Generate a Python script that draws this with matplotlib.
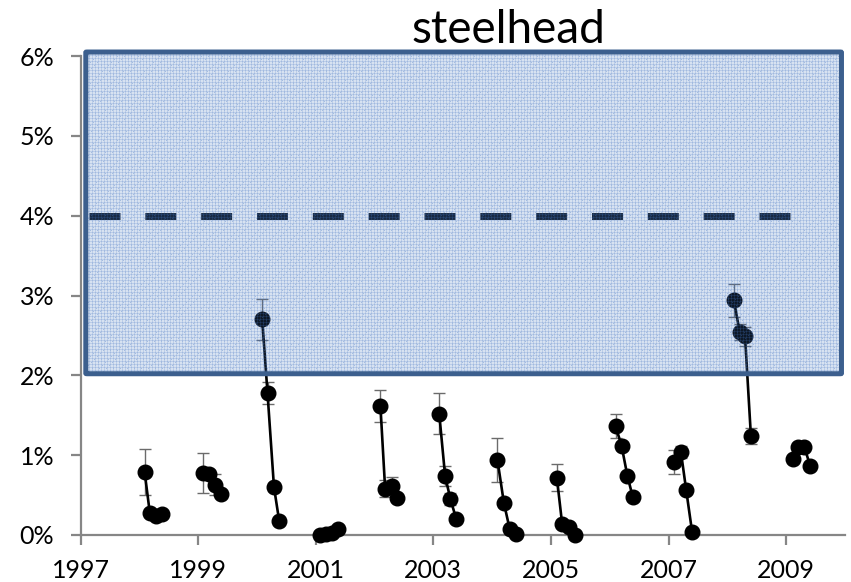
import numpy as np
import matplotlib
matplotlib.use("Agg")
import matplotlib.pyplot as plt
from matplotlib.patches import FancyBboxPatch
from matplotlib.ticker import FuncFormatter

plt.rcParams['font.family'] = ['Lato', 'DejaVu Sans']

# sample dates (decimal year) and percent values, one list per season
sample_x = [
    [1998.09, 1998.18, 1998.28, 1998.39],
    [1999.08, 1999.19, 1999.29, 1999.39],
    [2000.09, 2000.18, 2000.29, 2000.38],
    [2001.08, 2001.18, 2001.28, 2001.38],
    [2002.10, 2002.18, 2002.29, 2002.39],
    [2003.10, 2003.20, 2003.29, 2003.39],
    [2004.09, 2004.20, 2004.30, 2004.40],
    [2005.10, 2005.19, 2005.31, 2005.41],
    [2006.10, 2006.20, 2006.30, 2006.39],
    [2007.09, 2007.21, 2007.30, 2007.40],
    [2008.11, 2008.21, 2008.30, 2008.40],
    [2009.11, 2009.20, 2009.31, 2009.41],
]
sample_pct = [
    [0.79, 0.27, 0.24, 0.26],
    [0.78, 0.76, 0.63, 0.51],
    [2.70, 1.78, 0.60, 0.17],
    [0.00, 0.01, 0.03, 0.07],
    [1.62, 0.58, 0.62, 0.46],
    [1.52, 0.74, 0.45, 0.20],
    [0.94, 0.40, 0.07, 0.01],
    [0.72, 0.14, 0.10, 0.00],
    [1.36, 1.12, 0.74, 0.48],
    [0.92, 1.04, 0.56, 0.04],
    [2.94, 2.54, 2.49, 1.24],
    [0.95, 1.10, 1.10, 0.86],
]
sample_err = [
    [0.29, 0.05, 0.03, 0.03],
    [0.25, 0.05, 0.13, 0.03],
    [0.26, 0.14, 0.05, 0.03],
    [0.02, 0.02, 0.02, 0.02],
    [0.20, 0.11, 0.11, 0.04],
    [0.26, 0.12, 0.08, 0.03],
    [0.28, 0.05, 0.03, 0.02],
    [0.17, 0.04, 0.03, 0.02],
    [0.15, 0.05, 0.04, 0.05],
    [0.15, 0.08, 0.04, 0.02],
    [0.21, 0.10, 0.12, 0.10],
    [0.03, 0.03, 0.03, 0.03],
]

target_pct = 4.0
target_x = [1997.14, 2009.07]
band_pct = [2.02, 6.05]
band_x = [1997.09, 2009.94]
year_ticks = [1997, 1999, 2001, 2003, 2005, 2007, 2009]

W, H = 851, 582
fig = plt.figure(figsize=(W / 100, H / 100), dpi=100)
ax = fig.add_axes([80.5 / W, 47 / H, (845 - 80.5) / W, (535 - 56) / H])

for xs, ys, es in zip(sample_x, sample_pct, sample_err):
    ax.errorbar(xs, ys, yerr=es, fmt='none', ecolor='#6b6b6b',
                elinewidth=1.0, capsize=4, capthick=1.0, zorder=2, clip_on=False)
    ax.plot(xs, ys, color='black', lw=1.9, marker='o', ms=10.5,
            mfc='black', mec='black', zorder=3, clip_on=False)

# dash pattern is in units of the line width (5 pt)
ax.plot(target_x, [target_pct, target_pct], color='#0e1724', lw=5.0,
        linestyle=(0, (4.46, 3.58)), dash_capstyle='butt', zorder=4)

# translucent patterned band over the 2-6% range
bw = int(round((band_x[1] - band_x[0]) / 13 * (845 - 80.5)))
bh = int(round((band_pct[1] - band_pct[0]) / 6 * (535 - 56)))
ii, jj = np.mgrid[0:bh, 0:bw]
alpha = np.full((bh, bw), 0.21)
alpha[(ii % 3 == 0) | (jj % 3 == 0)] = 0.36
alpha[(ii % 3 == 0) & (jj % 3 == 0)] = 0.50
alpha[((ii + jj) % 7 == 0) & (ii % 3 == 1)] = 0.48
tex = np.zeros((bh, bw, 4))
tex[..., 0] = 66 / 255
tex[..., 1] = 116 / 255
tex[..., 2] = 192 / 255
tex[..., 3] = alpha
ax.imshow(tex, extent=[band_x[0], band_x[1], band_pct[0], band_pct[1]],
          aspect='auto', interpolation='nearest', zorder=5, clip_on=False)
ax.add_patch(FancyBboxPatch((band_x[0], band_pct[0]),
                            band_x[1] - band_x[0], band_pct[1] - band_pct[0],
                            boxstyle='round,pad=0,rounding_size=0.02',
                            mutation_aspect=0.3,
                            fill=False, ec='#3c5f8e', lw=3.6, zorder=6,
                            clip_on=False))

ax.set_xlim(1997, 2010)
ax.set_ylim(0, 6)
ax.set_xticks(year_ticks)
ax.set_yticks(range(7))
ax.yaxis.set_major_formatter(FuncFormatter(lambda v, p: '%d%%' % v))

for s in ['top', 'right']:
    ax.spines[s].set_visible(False)
for s in ['left', 'bottom']:
    ax.spines[s].set_color('#868686')
    ax.spines[s].set_linewidth(1.6)
ax.tick_params(axis='both', colors='#868686', width=1.6, length=7,
               labelsize=18, labelcolor='black')
ax.tick_params(axis='y', pad=12)
ax.tick_params(axis='x', pad=10)

fig.text(508.7 / W, 1 - 43 / H, 'steelhead', ha='center', va='baseline',
         fontsize=33)

fig.savefig('out.png', dpi=100)
